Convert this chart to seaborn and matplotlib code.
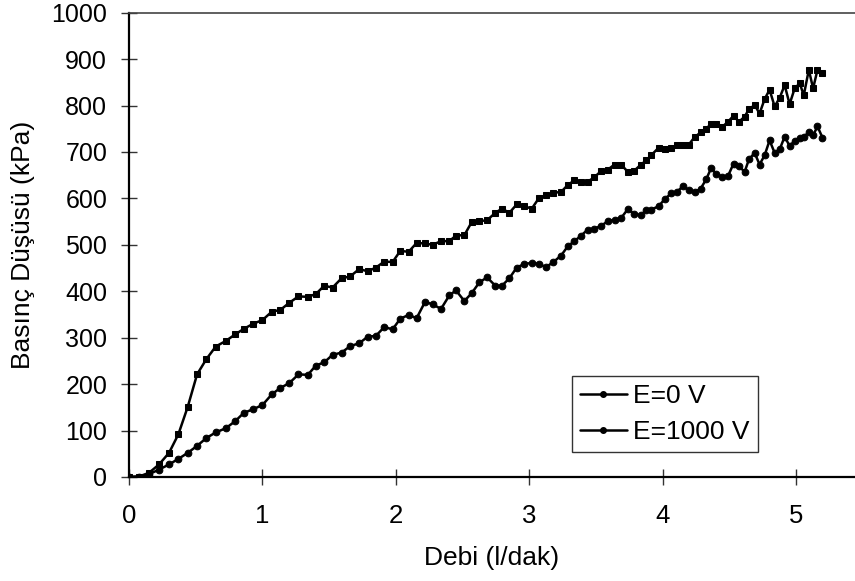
import matplotlib
matplotlib.use("Agg")
import matplotlib.pyplot as plt
from matplotlib.lines import Line2D
import seaborn as sns
import pandas as pd

debi = [0, 0.075, 0.15, 0.225, 0.30, 0.37, 0.44, 0.51, 0.58, 0.65, 0.725, 0.795, 0.86, 0.93, 1.0,
        1.07, 1.135, 1.2, 1.27, 1.34, 1.40,
        1.463, 1.525, 1.593, 1.658, 1.725, 1.788, 1.85, 1.913, 1.975, 2.033, 2.095, 2.155, 2.218,
        2.275, 2.338, 2.40, 2.45, 2.513, 2.568, 2.625, 2.683, 2.745,
        2.795, 2.85, 2.905, 2.963, 3.018, 3.07, 3.125, 3.18, 3.238, 3.288, 3.338, 3.388, 3.438,
        3.488, 3.538, 3.588, 3.638, 3.688, 3.738, 3.783, 3.833, 3.876,
        3.913, 3.968, 4.013, 4.063, 4.105, 4.15, 4.195, 4.238, 4.283, 4.325, 4.363, 4.40, 4.445,
        4.488, 4.53, 4.57, 4.613, 4.645, 4.688, 4.725, 4.763, 4.80, 4.838, 4.876, 4.913, 4.95,
        4.988, 5.026, 5.056, 5.094, 5.126, 5.159, 5.196]

e0 = [0, 1, 6, 16, 27, 39, 52, 67, 84, 96, 105, 120, 138, 146, 155, 178, 192, 202, 221, 220, 240,
      247, 263, 268, 282, 288, 302, 304, 323, 318, 341, 349, 342, 377, 372, 362, 391, 402, 379,
      396, 419, 430, 412,
      412, 428, 451, 459, 461, 459, 452, 463, 477, 497, 508, 520, 533, 535, 541, 551, 554, 558,
      577, 567, 564, 574,
      576, 583, 598, 611, 614, 626, 618, 613, 621, 641, 666, 652, 647, 648, 675, 670, 657, 684,
      698, 673, 693, 725, 698, 706, 733, 713, 724, 731, 733, 742, 736, 755, 731]

e1000 = [0, 1, 9, 27, 52, 92, 151, 221, 254, 281, 293, 307, 319, 330, 338, 356, 360, 375, 389, 388, 394,
         412, 408, 428, 432, 448, 443, 451, 464, 463, 487, 485, 504, 503, 500, 508, 508, 520, 521,
         549, 551, 553, 569,
         578, 569, 587, 583, 578, 600, 607, 612, 614, 629, 639, 636, 636, 646, 659, 662, 673, 673,
         657, 659, 672, 682,
         693, 709, 706, 709, 715, 716, 716, 732, 742, 750, 761, 761, 754, 765, 778, 765, 776, 792,
         801, 783, 814, 834, 798, 817, 844, 803, 837, 848, 822, 877, 837, 877, 870]

labels = ["E=0 V", "E=1000 V"]
xticks = [0, 1, 2, 3, 4, 5]
yticks = list(range(0, 1001, 100))

sns.set_style("white")
plt.rcParams['font.family'] = ['Liberation Sans', 'DejaVu Sans']
plt.rcParams['text.color'] = 'black'
plt.rcParams['axes.labelcolor'] = 'black'

df0 = pd.DataFrame({"x": debi, "y": e0})
df1 = pd.DataFrame({"x": debi, "y": e1000})

fig = plt.figure(figsize=(8.55, 5.81), dpi=100)
ax = fig.add_axes([129 / 855, 1 - 477 / 581, 1 - 129 / 855, (477 - 12.7) / 581])

sns.lineplot(data=df0, x="x", y="y", ax=ax, color="black", lw=1.8, marker="o",
             markersize=4.8, markeredgecolor="black", sort=False, estimator=None)
sns.lineplot(data=df1, x="x", y="y", ax=ax, color="black", lw=1.8, marker="s",
             markersize=4.8, markeredgecolor="black", sort=False, estimator=None)

ax.set_xlim(0, 5.44)
ax.set_ylim(0, 1000)
ax.set_xticks(xticks)
ax.set_yticks(yticks)
ax.set_xticklabels([str(t) for t in xticks], fontsize=18.5)
ax.set_yticklabels([str(t) for t in yticks], fontsize=18)
ax.tick_params(axis="both", direction="inout", length=11.5, width=1, color="#333333",
               bottom=True, left=True, labelcolor="black")
ax.tick_params(axis="x", pad=14)
ax.tick_params(axis="y", pad=10)
ax.set_xlabel("Debi (l/dak)", fontsize=19, labelpad=13)
ax.set_ylabel("Basınç Düşüsü (kPa)", fontsize=19, labelpad=12)

for s in ["left", "bottom"]:
    ax.spines[s].set_color("black")
    ax.spines[s].set_linewidth(1.6)
ax.spines["top"].set_color("#444444")
ax.spines["top"].set_linewidth(1.2)
ax.spines["right"].set_visible(False)

handles = [Line2D([], [], color="black", lw=1.8, marker="o", markersize=4)
           for _ in labels]
leg = ax.legend(handles, labels, loc="lower left", bbox_to_anchor=(0.610, 0.054),
                fontsize=19, frameon=True, fancybox=False, edgecolor="black",
                handlelength=1.78, handletextpad=0.25, borderpad=0.3, labelspacing=0.45,
                borderaxespad=0)
leg.get_frame().set_linewidth(1.0)

fig.savefig("out.png", dpi=100)
